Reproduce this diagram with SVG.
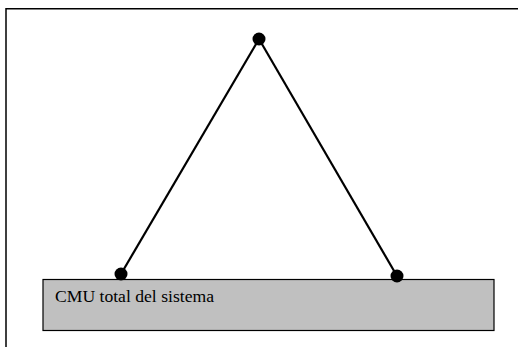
<svg xmlns="http://www.w3.org/2000/svg" width="518" height="347" viewBox="0 0 518 347">
<style>
.frame{fill:none;stroke:#000;stroke-width:1.5}
.edge{stroke:#000;stroke-width:2.2;fill:none}
.dot{fill:#000}
.box{fill:#c0c0c0;stroke:#000;stroke-width:1.2}
.lbl{font-family:"Liberation Serif",serif;font-size:16.5px;fill:#000}
</style>
<rect width="518" height="347" fill="#fff"/>
<g id="frame"><path class="frame" d="M6,347 V8.75 H518"/></g>
<g id="box"><rect class="box" x="43" y="279.5" width="451" height="51"/>
<text class="lbl" x="55" y="302" textLength="159" lengthAdjust="spacingAndGlyphs">CMU total del sistema</text></g>
<g id="connectors">
<line class="edge" x1="259" y1="39" x2="121" y2="274"/>
<line class="edge" x1="259" y1="39" x2="397" y2="276"/>
</g>
<g id="top"><circle class="dot" cx="259" cy="39" r="6.5"/></g>
<g id="left"><circle class="dot" cx="121" cy="274" r="6.5"/></g>
<g id="right"><circle class="dot" cx="397" cy="276" r="6.5"/></g>
</svg>
